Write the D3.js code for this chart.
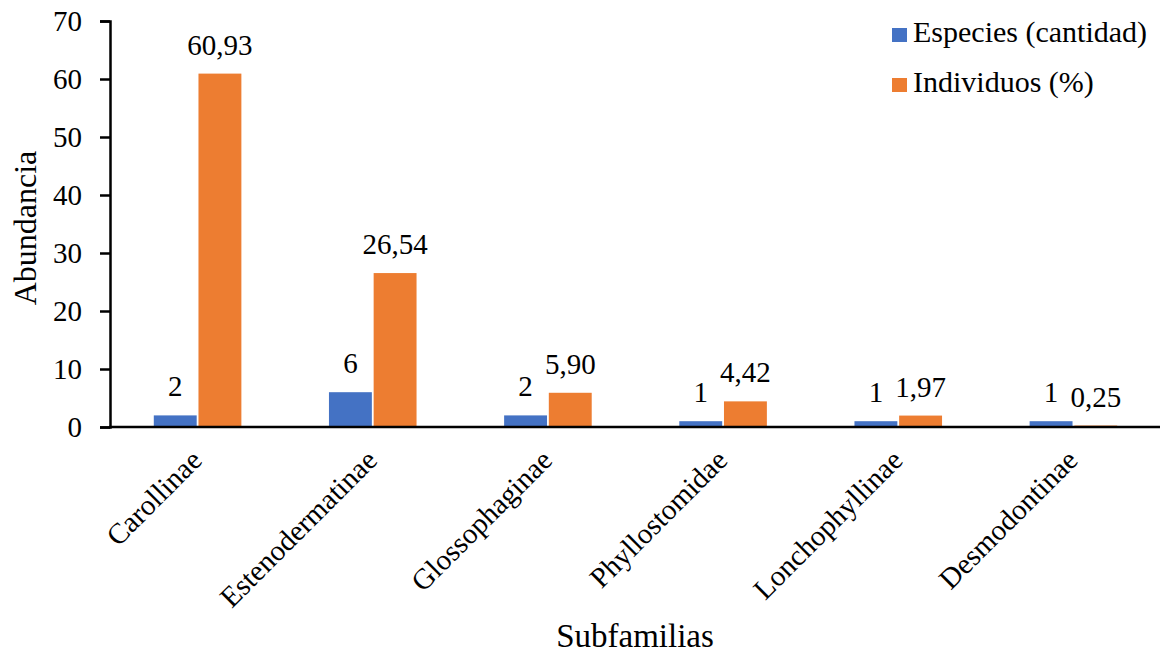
<!DOCTYPE html>
<html>
<head>
<meta charset="utf-8">
<script src="https://cdn.jsdelivr.net/npm/d3@7"></script>
</head>
<body style="margin:0; background:#fff">
<svg id="chart" width="1160" height="653"></svg>
<script>
// Subfamilies of Phyllostomidae and their abundance
const categories = ["Carollinae", "Estenodermatinae", "Glossophaginae", "Phyllostomidae", "Lonchophyllinae", "Desmodontinae"];
const especies = [2, 6, 2, 1, 1, 1];
const individuos = [60.93, 26.54, 5.90, 4.42, 1.97, 0.25];
const especiesLabels = ["2", "6", "2", "1", "1", "1"];
const individuosLabels = ["60,93", "26,54", "5,90", "4,42", "1,97", "0,25"];
const seriesNames = ["Especies (cantidad)", "Individuos (%)"];
const seriesColors = ["#4472C4", "#ED7D31"];
const yTicks = [0, 10, 20, 30, 40, 50, 60, 70];

const FONT = '"Liberation Serif"';
const svg = d3.select("#chart");
const plot = { left: 110, right: 1161, top: 21, bottom: 427 };

const x = d3.scaleBand().domain(categories).range([plot.left, plot.right]).paddingInner(0.5).paddingOuter(0.25);
const xs = d3.scaleBand().domain([0, 1]).range([0, x.bandwidth()]).paddingInner(0.04);
const y = d3.scaleLinear().domain([0, 70]).range([plot.bottom, plot.top]);

function styleText(sel, size) {
  return sel.attr("font-family", null)
    .style("font-family", FONT).style("font-size", size + "px").style("fill", "#000");
}

// y axis
const yAxis = svg.append("g").attr("transform", `translate(${plot.left},0)`)
  .call(d3.axisLeft(y).tickValues(yTicks).tickSize(10).tickPadding(18));
yAxis.attr("font-family", null).attr("font-size", null);
yAxis.select(".domain").attr("stroke", "#000").attr("stroke-width", 2.5);
yAxis.selectAll(".tick line").attr("stroke", "#000").attr("stroke-width", 2.5);
styleText(yAxis.selectAll(".tick text"), 29);

// bars
const rows = categories.map((c, i) => ({ c, vals: [especies[i], individuos[i]], labels: [especiesLabels[i], individuosLabels[i]] }));
const groups = svg.append("g").selectAll("g").data(rows).join("g")
  .attr("transform", d => `translate(${x(d.c)},0)`);

groups.selectAll("rect").data(d => d.vals.map((v, k) => ({ v, k }))).join("rect")
  .attr("x", d => xs(d.k))
  .attr("width", xs.bandwidth())
  .attr("y", d => y(d.v))
  .attr("height", d => y(0) - y(d.v))
  .attr("fill", d => seriesColors[d.k]);

styleText(groups.selectAll("text.lbl").data(d => d.labels.map((t, k) => ({ t, k, v: d.vals[k] }))).join("text")
  .attr("class", "lbl")
  .attr("x", d => xs(d.k) + xs.bandwidth() / 2)
  .attr("y", d => y(d.v) - 19)
  .attr("text-anchor", "middle")
  .text(d => d.t), 29);

// x axis line
svg.append("line")
  .attr("x1", plot.left - 1).attr("x2", plot.right)
  .attr("y1", y(0)).attr("y2", y(0))
  .attr("stroke", "#000").attr("stroke-width", 2.5);

// rotated category labels
styleText(svg.append("g").selectAll("text").data(categories).join("text")
  .attr("transform", d => `translate(${x(d) + x.bandwidth() / 2 + 6},${plot.bottom + 35}) rotate(-45)`)
  .attr("text-anchor", "end")
  .text(d => d), 29);

// axis titles
styleText(svg.append("text")
  .attr("x", 635).attr("y", 647)
  .attr("text-anchor", "middle")
  .text("Subfamilias"), 33);

styleText(svg.append("text")
  .attr("transform", `translate(36,${(plot.top + plot.bottom) / 2 + 4}) rotate(-90)`)
  .attr("text-anchor", "middle")
  .text("Abundancia"), 32);

// legend
const legend = svg.append("g").selectAll("g").data(seriesNames).join("g")
  .attr("transform", (d, i) => `translate(892,${28 + i * 50})`);
legend.append("rect").attr("width", 15).attr("height", 14).attr("fill", (d, i) => seriesColors[i]);
styleText(legend.append("text").attr("x", 21).attr("y", 14).text(d => d), 30);
</script>
</body>
</html>
